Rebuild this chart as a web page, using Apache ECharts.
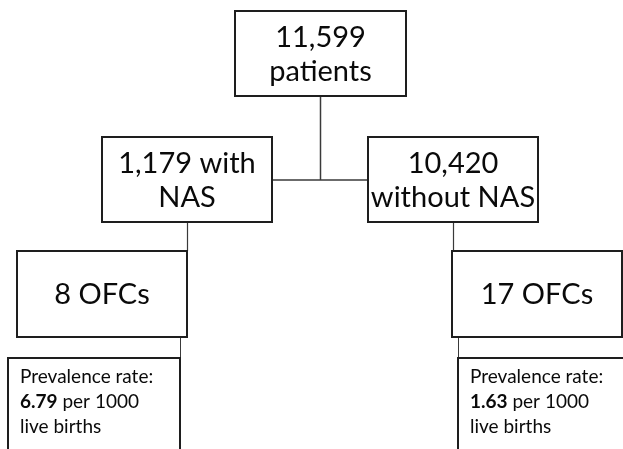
<!DOCTYPE html>
<html>
<head>
<meta charset="utf-8">
<script src="https://cdn.jsdelivr.net/npm/echarts@6/dist/echarts.min.js"></script>
<style>html,body{margin:0;padding:0;background:#fff}#c{width:623px;height:449px}</style>
</head>
<body>
<div id="c"></div>
<script>
// ---- data ----
const totalPatients = 11599;
const groupNames = ['with NAS', 'without NAS'];
const groupCounts = [1179, 10420];
const ofcCounts = [8, 17];
const prevalenceRates = [6.79, 1.63];
const rateUnit = 'per 1000';
const rateTail = 'live births';

const fmt = n => n.toLocaleString('en-US');

// node labels (built from data)
const nodeLabels = [
  fmt(totalPatients) + '\npatients',
  fmt(groupCounts[0]) + ' ' + groupNames[0].split(' ')[0] + '\n' + groupNames[0].split(' ').slice(1).join(' '),
  fmt(groupCounts[1]) + '\n' + groupNames[1],
  ofcCounts[0] + ' OFCs',
  ofcCounts[1] + ' OFCs'
];
const rateLabels = prevalenceRates.map(r => 'Prevalence rate:\n{b|' + r.toFixed(2) + '} ' + rateUnit + '\n' + rateTail);

// ---- layout (pixel space, separate from data) ----
const nodeBoxes = [
  [235, 11, 406, 96],
  [102, 137, 272, 222],
  [368, 137, 538, 222],
  [17, 251, 187, 337],
  [452, 251, 622, 337]
];
const rateBoxes = [
  [8, 358, 180, 470],
  [458, 358, 660, 470]
];
const connectors = [
  [320.5, 96, 320.5, 180, 1.5],
  [272, 180, 368, 180, 1.5],
  [187.5, 222, 187.5, 251, 1.2],
  [453.5, 222, 453.5, 251, 1.2],
  [180.5, 337, 180.5, 358, 1],
  [458.5, 337, 458.5, 358, 1]
];

const FONT = 'Lato, "Open Sans", sans-serif';

const chart = echarts.init(document.getElementById('c'), null, {renderer: 'canvas'});

function rectFrom(api) {
  const p0 = api.coord([api.value(0), api.value(1)]);
  const p1 = api.coord([api.value(2), api.value(3)]);
  return {x: p0[0], y: p0[1], width: p1[0] - p0[0], height: p1[1] - p0[1]};
}

chart.setOption({
  backgroundColor: '#fff',
  animation: false,
  grid: {left: 0, right: 0, top: 0, bottom: 0},
  xAxis: {type: 'value', min: 0, max: 623, show: false},
  yAxis: {type: 'value', min: 0, max: 449, inverse: true, show: false},
  series: [
    {
      type: 'custom',
      clip: false,
      z: 1,
      data: connectors,
      renderItem: function (params, api) {
        const a = api.coord([api.value(0), api.value(1)]);
        const b = api.coord([api.value(2), api.value(3)]);
        return {
          type: 'line',
          shape: {x1: a[0], y1: a[1], x2: b[0], y2: b[1]},
          style: {stroke: '#3a3a3a', lineWidth: api.value(4)}
        };
      }
    },
    {
      type: 'custom',
      clip: false,
      z: 2,
      data: nodeBoxes,
      renderItem: function (params, api) {
        const r = rectFrom(api);
        return {
          type: 'group',
          children: [
            {type: 'rect', shape: r, style: {fill: '#fff', stroke: '#1e1e1e', lineWidth: 2}},
            {type: 'text', style: {
              text: nodeLabels[params.dataIndex],
              x: r.x + r.width / 2, y: r.y + r.height / 2 + 1,
              align: 'center', verticalAlign: 'middle',
              fontFamily: FONT, fontSize: 29, lineHeight: 34, fill: '#0a0a0a'
            }}
          ]
        };
      }
    },
    {
      type: 'custom',
      clip: false,
      z: 2,
      data: rateBoxes,
      renderItem: function (params, api) {
        const r = rectFrom(api);
        return {
          type: 'group',
          children: [
            {type: 'rect', shape: r, style: {fill: '#fff', stroke: '#1e1e1e', lineWidth: 2}},
            {type: 'text', style: {
              text: rateLabels[params.dataIndex],
              x: r.x + 12, y: r.y + 6,
              align: 'left', verticalAlign: 'top',
              fontFamily: FONT, fontSize: 19, lineHeight: 25, fill: '#0a0a0a',
              rich: {b: {fontFamily: FONT, fontSize: 19, lineHeight: 25, fontWeight: 'bold', fill: '#0a0a0a'}}
            }}
          ]
        };
      }
    }
  ]
});
</script>
</body>
</html>
